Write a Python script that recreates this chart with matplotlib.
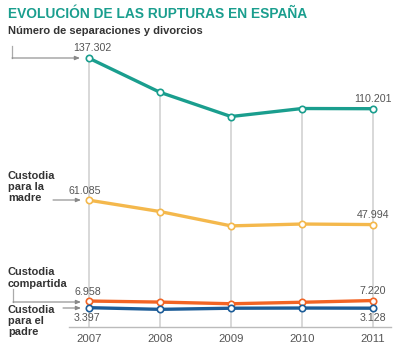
import matplotlib
matplotlib.use("Agg")
import matplotlib.pyplot as plt

plt.rcParams['font.family'] = ['Liberation Sans', 'DejaVu Sans']

years = [2007, 2008, 2009, 2010, 2011]
total = [137302, 119000, 106000, 110300, 110201]
madre = [61085, 55000, 47300, 48300, 47994]
compartida = [6958, 6400, 5500, 6300, 7220]
padre = [3397, 2500, 3100, 3200, 3128]

title = "EVOLUCIÓN DE LAS RUPTURAS EN ESPAÑA"
subtitle = "Número de separaciones y divorcios"
label_madre = "Custodia\npara la\nmadre"
label_comp = "Custodia\ncompartida"
label_padre = "Custodia\npara el\npadre"

c_total = "#1a9e8e"
c_madre = "#f4b84c"
c_comp = "#f26424"
c_padre = "#1d5d98"
c_text = "#555555"

W, H = 414, 361
fig = plt.figure(figsize=(W / 100, H / 100), dpi=100)

# overlay in pixel coordinates (behind)
ov = fig.add_axes([0, 0, 1, 1], zorder=0)
ov.set_xlim(0, W)
ov.set_ylim(H, 0)
ov.axis('off')

# main axes positioned in pixel terms
left_px, right_px, top_px, bot_px = 69, 391, 40, 327
ax = fig.add_axes([left_px / W, 1 - bot_px / H, (right_px - left_px) / W, (bot_px - top_px) / H], zorder=1)
ax.patch.set_alpha(0)
ax.set_xlim(2006.718, 2011.254)
ax.set_ylim(-6978, 147080)
for s in ['top', 'right', 'left']:
    ax.spines[s].set_visible(False)
ax.spines['bottom'].set_color('#bbbbbb')
ax.spines['bottom'].set_linewidth(1.0)
ax.set_yticks([])
ax.set_xticks(years)
ax.set_xticklabels([str(y) for y in years], fontsize=8.2, color=c_text)
ax.tick_params(axis='x', length=0, pad=5)

# vertical grid lines from baseline up to the total line
ax.vlines(years, -6978, total, colors='#d6d6d6', linewidth=1.3, zorder=1)

series = [(total, c_total), (madre, c_madre), (compartida, c_comp), (padre, c_padre)]
for vals, col in series:
    ax.plot(years, vals, color=col, linewidth=2.4, zorder=3,
            marker='o', markersize=4.6, markerfacecolor='white',
            markeredgecolor=col, markeredgewidth=1.2, solid_capstyle='round')

def fmt(v):
    return f"{v:,}".replace(",", ".")

def lab(x, y, dx, dy):
    ax.annotate(fmt(y), (x, y), xytext=(dx * 0.72, dy * 0.72), textcoords='offset points',
                ha='center', va='center', fontsize=7.7, color=c_text, zorder=4)

lab(years[0], total[0], 3, 10)
lab(years[-1], total[-1], 0, 10)
lab(years[0], madre[0], -4, 9)
lab(years[-1], madre[-1], 0, 10)
lab(years[0], compartida[0], -1, 9)
lab(years[-1], compartida[-1], 0, 10)
lab(years[0], padre[0], -2, -10)
lab(years[-1], padre[-1], 0, -10)

ov.text(8, 14, title, fontsize=9.9, fontweight='bold', color=c_total, ha='left', va='center')
ov.text(8, 31, subtitle, fontsize=8.0, fontweight='bold', color='#333333', ha='left', va='center')

ov.text(8, 187, label_madre, fontsize=7.9, fontweight='bold', color='#333333',
        ha='left', va='center', linespacing=1.15)
ov.text(8, 278, label_comp, fontsize=7.9, fontweight='bold', color='#333333',
        ha='left', va='center', linespacing=1.15)
ov.text(8, 321, label_padre, fontsize=7.9, fontweight='bold', color='#333333',
        ha='left', va='center', linespacing=1.15)

lc = '#888888'
arrow = dict(arrowstyle='-|>,head_length=0.3,head_width=0.12', color=lc, lw=0.8, shrinkA=0, shrinkB=0)
# top bracket
ov.plot([12, 12], [46, 58], color='#aaaaaa', lw=0.9)
ov.annotate('', xy=(80, 58), xytext=(12, 58), arrowprops=arrow)
# madre
ov.annotate('', xy=(81, 200), xytext=(53, 200), arrowprops=arrow)
# compartida bracket
ov.plot([13, 13], [289, 302], color='#aaaaaa', lw=0.9)
ov.annotate('', xy=(81, 302), xytext=(13, 302), arrowprops=arrow)
# padre
ov.annotate('', xy=(81, 308), xytext=(63, 308), arrowprops=arrow)

fig.savefig("out.png", dpi=100)
